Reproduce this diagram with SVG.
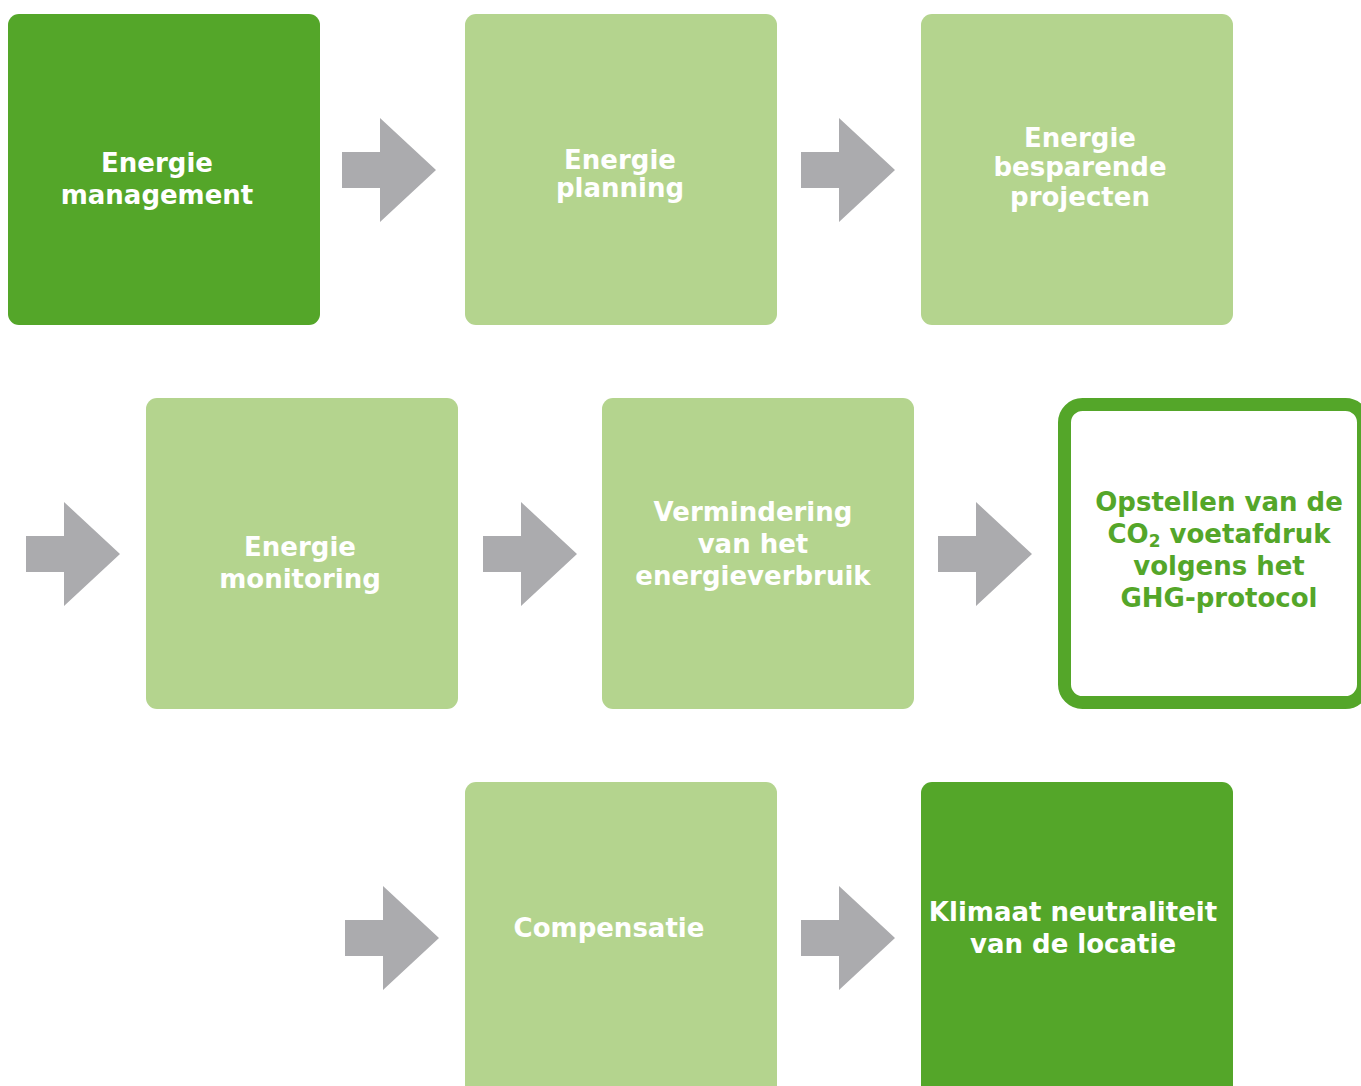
<svg xmlns="http://www.w3.org/2000/svg" width="1361" height="1086" viewBox="0 0 1361 1086">
<style>
.dark{fill:#54A629}
.light{fill:#B4D48E}
.outl{fill:#FFFFFF;stroke:#54A629;stroke-width:13}
.arr{fill:#ABABAE}
text{font-family:"DejaVu Sans","Verdana",sans-serif;font-weight:bold;font-size:26px;text-anchor:middle}
.w{fill:#FFFFFF}
.g{fill:#54A629}
.sub{font-size:17px}
</style>
<defs>
<path id="arrow" d="M0,-18 L38,-18 L38,-52 L94,0 L38,52 L38,18 L0,18 Z"/>
</defs>
<rect width="1361" height="1086" fill="#FFFFFF"/>
<g id="connectors">
<use href="#arrow" class="arr" x="342" y="170"/>
<use href="#arrow" class="arr" x="801" y="170"/>
<use href="#arrow" class="arr" x="26" y="554"/>
<use href="#arrow" class="arr" x="483" y="554"/>
<use href="#arrow" class="arr" x="938" y="554"/>
<use href="#arrow" class="arr" x="345" y="938"/>
<use href="#arrow" class="arr" x="801" y="938"/>
</g>
<g id="n1">
<rect class="dark" x="8" y="14" width="312" height="311" rx="11"/>
<text class="w" x="157" y="172">Energie</text>
<text class="w" x="157" y="204">management</text>
</g>
<g id="n2">
<rect class="light" x="465" y="14" width="312" height="311" rx="11"/>
<text class="w" x="620" y="169">Energie</text>
<text class="w" x="620" y="197">planning</text>
</g>
<g id="n3">
<rect class="light" x="921" y="14" width="312" height="311" rx="11"/>
<text class="w" x="1080" y="147">Energie</text>
<text class="w" x="1080" y="176">besparende</text>
<text class="w" x="1080" y="206">projecten</text>
</g>
<g id="n4">
<rect class="light" x="146" y="398" width="312" height="311" rx="11"/>
<text class="w" x="300" y="556">Energie</text>
<text class="w" x="300" y="588">monitoring</text>
</g>
<g id="n5">
<rect class="light" x="602" y="398" width="312" height="311" rx="11"/>
<text class="w" x="753" y="521">Vermindering</text>
<text class="w" x="753" y="553">van het</text>
<text class="w" x="753" y="585">energieverbruik</text>
</g>
<g id="n6">
<rect class="outl" x="1064.5" y="404.5" width="299" height="298" rx="18"/>
<text class="g" x="1219" y="511">Opstellen van de</text>
<text class="g" x="1219" y="543">CO<tspan class="sub" dy="4">2</tspan><tspan dy="-4"> voetafdruk</tspan></text>
<text class="g" x="1219" y="575">volgens het</text>
<text class="g" x="1219" y="607">GHG-protocol</text>
</g>
<g id="n7">
<rect class="light" x="465" y="782" width="312" height="320" rx="11"/>
<text class="w" x="609" y="937">Compensatie</text>
</g>
<g id="n8">
<rect class="dark" x="921" y="782" width="312" height="320" rx="11"/>
<text class="w" x="1073" y="921">Klimaat neutraliteit</text>
<text class="w" x="1073" y="953">van de locatie</text>
</g>
</svg>
